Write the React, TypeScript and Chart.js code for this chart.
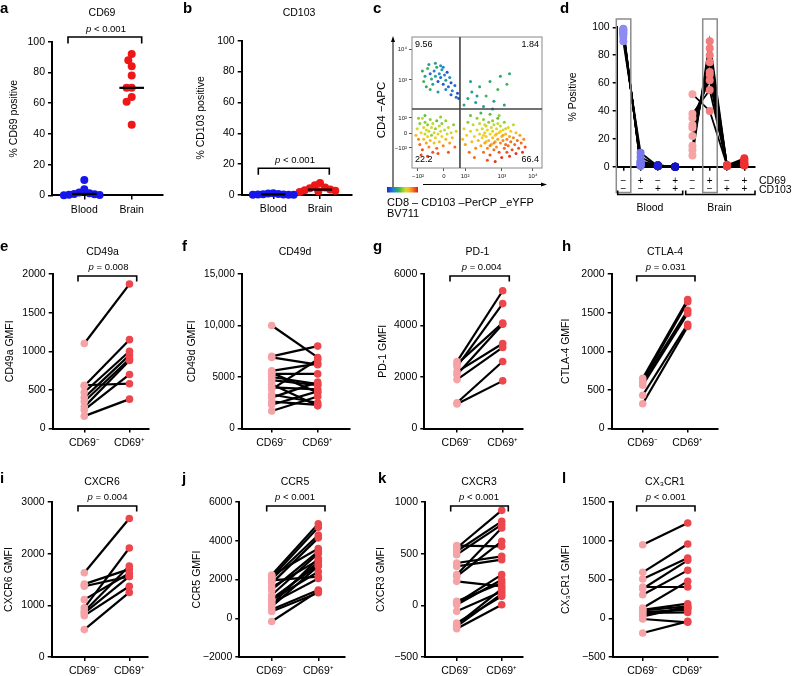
import React, { useEffect, useRef } from 'react';
import { Chart, registerables } from 'chart.js';

Chart.register(...registerables);

const W = 795;
const H = 676;
const FONT = '"Liberation Sans", Arial, Helvetica, sans-serif';

// ---------------- data: panels a, b ----------------
const abGroups = ['Blood', 'Brain'];
const cd69Blood = [10, 4, 2, 1.5, 1, 0.8, 0.5, 0.3, 0.1];
const cd69Brain = [92, 88, 84, 78, 70, 70, 64, 61, 46];
const cd103Blood = [1.2, 0.9, 0.7, 0.5, 0.4, 0.3, 0.2, 0.15, 0.1];
const cd103Brain = [7.8, 6.3, 4.9, 4.3, 3.5, 3, 2.8, 2.4, 2];

// ---------------- data: panel c (flow plot, display units) ----------------
const flowTickLabels = ['−10²', '0', '10²', '10³', '10⁴'];
const flowTickX = [4.6, 24.6, 40.8, 69.2, 93];
const flowTickY = [15.3, 26.7, 38.2, 67.2, 90.8];
const flowGateX = 36.9;
const flowGateY = 45;
const quadrantPct = ['9.56', '1.84', '22.2', '66.4'];
const flowUL = [[8,74,.35],[10,70,.3],[12,76,.4],[14,72,.15],[15,68,.35],[17,74,.2],[18,70,.3],[19,77,.35],[20,66,.1],[21,72,.25],[22,69,.15],[23,75,.3],[24,64,.12],[25,71,.2],[26,67,.3],[27,73,.1],[28,62,.15],[29,69,.25],[30,65,.1],[31,59,.2],[33,63,.15],[35,57,.1],[9,66,.4],[11,62,.35],[13,79,.3],[16,64,.3],[22,78,.25],[26,60,.2],[34,54,.15],[36,53,.1],[30,56,.12],[20,58,.3],[14,60,.38],[18,80,.3],[24,77,.2]];
const flowUR = [[40,48,.3],[43,53,.35],[46,58,.3],[49,50,.25],[52,62,.35],[55,47,.3],[57,55,.4],[60,66,.35],[63,51,.3],[66,60,.4],[68,70,.35],[71,48,.3],[73,64,.4],[75,72,.35],[45,66,.3],[62,45,.25],[50,55,.3]];
const flowLL = [[4,30,.6],[5,22,.8],[6,34,.5],[6,18,.85],[7,27,.65],[8,38,.55],[8,14,.9],[9,31,.6],[9,22,.7],[10,26,.55],[10,35,.5],[11,19,.75],[11,29,.6],[12,33,.5],[12,24,.65],[13,16,.8],[13,28,.55],[14,37,.5],[14,21,.7],[15,31,.6],[15,25,.5],[16,12,.9],[16,34,.55],[17,19,.7],[17,27,.6],[18,30,.5],[18,23,.65],[19,36,.45],[19,15,.85],[20,26,.6],[21,32,.55],[21,20,.7],[22,28,.6],[23,24,.65],[23,34,.5],[24,17,.8],[25,29,.55],[26,22,.7],[26,36,.5],[27,26,.6],[28,31,.55],[29,19,.75],[30,27,.6],[31,23,.7],[32,33,.5],[33,16,.85],[34,28,.6],[7,10,.9],[12,9,.95],[20,11,.9],[3,25,.7],[5,38,.5],[10,40,.45],[22,39,.5],[28,12,.9]];
const flowLR = [[40,30,.6],[41,18,.75],[42,25,.65],[43,35,.5],[44,12,.85],[45,28,.6],[46,20,.7],[47,33,.55],[48,24,.65],[49,15,.8],[50,38,.5],[50,29,.6],[51,21,.7],[52,26,.6],[52,34,.55],[53,17,.75],[54,30,.6],[54,23,.65],[55,12,.85],[55,37,.5],[56,27,.6],[56,19,.75],[57,32,.55],[57,24,.65],[58,15,.8],[58,29,.6],[59,21,.7],[59,35,.5],[60,26,.65],[60,10,.9],[61,31,.6],[61,18,.75],[62,23,.7],[62,28,.6],[63,14,.85],[63,33,.55],[64,20,.75],[64,25,.65],[65,30,.6],[65,16,.8],[66,22,.75],[66,38,.45],[67,27,.65],[67,12,.9],[68,19,.8],[68,32,.55],[69,24,.7],[69,8,.95],[70,21,.8],[70,29,.6],[71,15,.85],[71,35,.5],[72,18,.85],[72,26,.7],[73,12,.9],[73,22,.8],[74,31,.6],[74,17,.85],[75,24,.75],[75,9,.95],[76,20,.85],[76,28,.65],[77,14,.9],[78,23,.8],[78,33,.55],[79,18,.85],[80,11,.95],[80,27,.7],[81,21,.85],[82,15,.9],[83,25,.75],[84,19,.85],[85,12,.95],[86,22,.8],[87,16,.9],[45,40,.45],[53,42,.4],[60,41,.45],[67,40,.5],[58,6,.9],[64,5,.95],[48,8,.85],[39,22,.7],[62,36,.5],[56,33,.6],[66,34,.55],[60,17,.8],[63,19,.8],[65,26,.7],[68,28,.65],[70,25,.75],[72,30,.6],[57,20,.7],[55,25,.65]];

// ---------------- data: panel d ----------------
const dRowCD69 = ['−', '+', '−', '+', '−', '+', '−', '+'];
const dRowCD103 = ['−', '−', '+', '+', '−', '−', '+', '+'];
const bloodNN = [99, 98.5, 98, 97, 96, 96, 95, 93, 90];
const bloodPN = [0.5, 1, 1.5, 2, 3, 3.5, 4, 7, 10];
const bloodNP = [0.5, 0.5, 0.5, 1, 1, 0.5, 1, 0.5, 0.3];
const bloodPP = [0, 0, 0, 0, 0, 0, 0, 0, 0];
const brainNN = [52, 38, 35, 30, 28, 22, 15, 12, 8];
const brainPN = [40, 55, 62, 68, 66, 75, 80, 85, 90];
const brainNP = [1, 1, 0.5, 1, 0.5, 1, 1, 0.5, 0.5];
const brainPP = [6, 5, 2, 1, 3, 2, 4, 1, 1];

// ---------------- data: panels e–l ----------------
const pairLabels = ['CD69⁻', 'CD69⁺'];
const cd49aNeg = [1100, 560, 550, 470, 400, 350, 280, 240, 160];
const cd49aPos = [1870, 580, 1150, 1000, 950, 900, 880, 700, 380];
const cd49dNeg = [10000, 7000, 6900, 5600, 5400, 5300, 5000, 4700, 4300, 4000, 3800, 3300, 3000, 2600, 2300, 1700];
const cd49dPos = [6900, 8000, 6200, 6300, 3500, 5300, 4300, 4200, 2200, 3800, 6700, 2500, 4500, 2300, 3600, 3100];
const pd1Neg = [2600, 2500, 2400, 2200, 2100, 1900, 1000, 950];
const pd1Pos = [5350, 4100, 4850, 3300, 4050, 3150, 2600, 1850];
const ctla4Neg = [650, 620, 600, 560, 430, 320];
const ctla4Pos = [1670, 1640, 1530, 1490, 1350, 1320];
const cxcr6Neg = [1630, 1410, 1370, 1110, 950, 880, 850, 800, 530];
const cxcr6Pos = [2680, 1700, 1560, 1620, 2110, 1760, 1560, 1370, 1250];
const ccr5Neg = [2230, 2200, 2100, 2010, 1950, 1800, 1600, 1460, 1200, 1000, 950, 900, 780, 700, 600, 450, 350, -170];
const ccr5Pos = [4880, 3600, 4700, 4300, 2150, 4150, 3000, 3450, 3350, 2750, 2400, 2900, 2050, 3100, 2700, 1460, 1320, 1400];
const cxcr3Neg = [578, 555, 523, 490, 410, 377, 297, 281, 232, 39, 20, 6, -58, -171, -190, -203, -226];
const cxcr3Pos = [571, 919, 813, 781, 474, 442, 748, 619, 184, 216, 297, 248, 135, 87, 160, 110, 6];
const cx3cr1Neg = [949, 592, 506, 403, 380, 304, 132, 110, 102, 80, 68, 40, 25, -10, -190];
const cx3cr1Pos = [1229, 958, 777, 403, 747, 618, 476, 188, 153, 110, 75, 130, 150, -52, -40];

// ---------------- styling ----------------
const BLUE = '#1616ec';
const RED = '#ee1616';
const NEG = '#f5a3a6';
const POS = '#ec474c';
const D_COLORS = ['#8c8cf2', '#7575f0', '#1e1ed8', '#1414c0', '#f5a3a3', '#f27d7d', '#ee3c3c', '#ee3030'];

const YW = 46;
const XH = 24;

type Box = { L: number; T: number; R: number; B: number };

function layoutFor(b: Box) {
  return { padding: { left: b.L - YW, top: b.T, right: W - b.R, bottom: H - b.B - XH } };
}
function xRange(b: Box, p0: number, pN: number, n: number) {
  const u = (pN - p0) / n;
  return { min: (b.L - p0) / u, max: (b.R - p0) / u };
}
function fmt(v: number) {
  const a = Math.abs(v);
  const s = a >= 10000 ? a.toLocaleString('en-US') : String(a);
  return (v < 0 ? '−' : '') + s;
}
const gridOpts = { drawOnChartArea: false, drawTicks: true, tickLength: 4, color: '#000', lineWidth: 1.5 };
const borderOpts = { display: true, color: '#000', width: 2 };

function yAxis(min: number, max: number, step: number, size = 10) {
  return {
    type: 'linear', min, max,
    afterFit: (s: any) => { s.width = YW; },
    ticks: { stepSize: step, color: '#000', font: { family: FONT, size }, padding: 3, callback: (v: any) => fmt(Number(v)) },
    grid: gridOpts,
    border: borderOpts,
  };
}
function xAxis(min: number, max: number, n: number, labels: string[] | null, size = 10) {
  return {
    type: 'linear', min, max,
    afterFit: (s: any) => { s.height = XH; },
    afterBuildTicks: (s: any) => { s.ticks = Array.from({ length: n }, (_, i) => ({ value: i })); },
    ticks: {
      display: !!labels, autoSkip: false, maxRotation: 0, minRotation: 0, color: '#000',
      font: { family: FONT, size }, padding: 4,
      callback: (_v: any, i: number) => (labels ? labels[i] : ''),
    },
    grid: gridOpts,
    border: borderOpts,
  };
}

// ---------------- drawing helpers ----------------
function txt(ctx: CanvasRenderingContext2D, s: string, x: number, y: number, size: number, o: any = {}) {
  ctx.save();
  ctx.font = `${o.italic ? 'italic ' : ''}${o.bold ? 'bold ' : ''}${size}px ${FONT}`;
  ctx.fillStyle = o.color || '#000';
  ctx.textAlign = o.align || 'center';
  ctx.textBaseline = o.baseline || 'middle';
  ctx.translate(x, y);
  if (o.rot) ctx.rotate(o.rot);
  ctx.fillText(s, 0, 0);
  ctx.restore();
}
function pText(ctx: CanvasRenderingContext2D, rest: string, cx: number, cy: number, size = 9.5) {
  ctx.save();
  ctx.font = `italic ${size}px ${FONT}`;
  const w1 = ctx.measureText('p').width;
  ctx.font = `${size}px ${FONT}`;
  const w2 = ctx.measureText(rest).width;
  const x0 = cx - (w1 + w2) / 2;
  ctx.restore();
  txt(ctx, 'p', x0, cy, size, { italic: true, align: 'left' });
  txt(ctx, rest, x0 + w1, cy, size, { align: 'left' });
}
function bracket(ctx: CanvasRenderingContext2D, x1: number, x2: number, y: number, h: number) {
  ctx.save();
  ctx.strokeStyle = '#000';
  ctx.lineWidth = 1.6;
  ctx.beginPath();
  ctx.moveTo(x1, y + h);
  ctx.lineTo(x1, y);
  ctx.lineTo(x2, y);
  ctx.lineTo(x2, y + h);
  ctx.stroke();
  ctx.restore();
}
function letter(ctx: CanvasRenderingContext2D, s: string, x: number, y: number) {
  txt(ctx, s, x, y, 15, { bold: true, align: 'left', baseline: 'alphabetic' });
}
function annot(draw: (ctx: CanvasRenderingContext2D, chart: any) => void) {
  return {
    id: 'annot',
    afterDraw(chart: any) { chart.ctx.save(); draw(chart.ctx, chart); chart.ctx.restore(); },
  };
}
function baseOptions(b: Box, scales: any) {
  return {
    responsive: false, animation: false, devicePixelRatio: 1, events: [],
    layout: layoutFor(b),
    plugins: { legend: { display: false }, tooltip: { enabled: false } },
    scales,
  };
}

// simple beeswarm: spreads overlapping dots sideways (pixel metric, squashed vertically)
function swarm(values: number[], center: number, pxX: number, pxY: number) {
  const order = values.map((_, i) => i).sort((a, b) => values[b] - values[a]);
  const placed: { x: number; y: number }[] = [];
  const out: any[] = new Array(values.length);
  const minD = 4;
  const step = 1.7;
  for (const i of order) {
    const py = values[i] * pxY;
    let off = 0;
    for (let k = 0; k < 80; k++) {
      const cand = k === 0 ? 0 : (k % 2 ? -1 : 1) * Math.ceil(k / 2) * step;
      if (placed.every((p) => Math.hypot(p.x - cand, (p.y - py) * 0.45) >= minD)) { off = cand; break; }
    }
    placed.push({ x: off, y: py });
    out[i] = { x: center + off / pxX, y: values[i] };
  }
  return out;
}
function median(a: number[]) {
  const s = [...a].sort((x, y) => x - y);
  const m = Math.floor(s.length / 2);
  return s.length % 2 ? s[m] : (s[m - 1] + s[m]) / 2;
}

// ---------------- panel builders ----------------
function dotPanel(o: any) {
  const b: Box = o.box;
  const xr = xRange(b, o.p0, o.p1, 1);
  const pxX = (b.R - b.L) / (xr.max - xr.min);
  const pxY = (b.B - b.T) / 100;
  const sw0 = swarm(o.v0, 0, pxX, pxY);
  const sw1 = swarm(o.v1, 1, pxX, pxY);
  const pt = (data: any[], color: string) => ({
    data, showLine: false, pointRadius: 4, pointBackgroundColor: color, pointBorderWidth: 0, order: 1, clip: false,
  });
  const med = (c: number, v: number[]) => ({
    data: [{ x: c - 0.26, y: median(v) }, { x: c + 0.26, y: median(v) }],
    showLine: true, borderColor: '#000', borderWidth: 2.2, pointRadius: 0, order: 0, clip: false,
  });
  return {
    type: 'scatter',
    data: { datasets: [pt(sw0, BLUE), pt(sw1, RED), med(0, o.v0), med(1, o.v1)] },
    options: baseOptions(b, { x: xAxis(xr.min, xr.max, 2, abGroups, 10.5), y: yAxis(0, 100, 20, 10.5) }),
    plugins: [annot((ctx) => {
      letter(ctx, o.letter, o.lx, 13);
      txt(ctx, o.title, o.tx, 13, 10.5);
      pText(ctx, ' < 0.001', o.px, o.py);
      bracket(ctx, o.br[0], o.br[1], o.br[2], 6.5);
      txt(ctx, o.ytitle, o.ytx, (b.T + b.B) / 2, 10.5, { rot: -Math.PI / 2 });
    })],
  };
}

function pairedPanel(o: any) {
  const b: Box = o.box;
  const xr = xRange(b, o.p0, o.p1, 1);
  const datasets: any[] = [
    { data: o.neg.map((v: number) => ({ x: 0, y: v })), pointRadius: 3.8, pointBackgroundColor: NEG, pointBorderWidth: 0, order: 0, clip: false },
    { data: o.pos.map((v: number) => ({ x: 1, y: v })), pointRadius: 3.8, pointBackgroundColor: POS, pointBorderWidth: 0, order: 0, clip: false },
  ];
  o.neg.forEach((v: number, i: number) => {
    datasets.push({
      data: [{ x: 0, y: v }, { x: 1, y: o.pos[i] }], showLine: true, borderColor: '#000', borderWidth: 2.2,
      pointRadius: 0, order: 1, clip: false,
    });
  });
  return {
    type: 'scatter',
    data: { datasets },
    options: baseOptions(b, { x: xAxis(xr.min, xr.max, 2, pairLabels, 10.5), y: yAxis(o.min, o.max, o.step, o.tickSize || 10.5) }),
    plugins: [annot((ctx) => {
      letter(ctx, o.letter, o.lx, o.ly);
      txt(ctx, o.title, o.tx, o.ty, 10.5);
      if (o.p) {
        pText(ctx, o.p, o.px, o.ty + 15.5);
        bracket(ctx, o.br[0], o.br[1], o.ty + 24, 5.5);
      }
      txt(ctx, o.ytitle, o.ytx, (b.T + b.B) / 2, 10.5, { rot: -Math.PI / 2 });
    })],
  };
}

const JET: [number, number[]][] = [
  [0, [30, 40, 210]], [0.22, [30, 140, 210]], [0.35, [40, 170, 110]], [0.45, [90, 195, 60]],
  [0.56, [200, 220, 40]], [0.66, [248, 205, 30]], [0.78, [245, 150, 30]], [0.9, [240, 80, 30]], [1, [225, 25, 25]],
];
function jet(t: number) {
  for (let i = 1; i < JET.length; i++) {
    if (t <= JET[i][0]) {
      const [a, ca] = JET[i - 1];
      const [bb, cb] = JET[i];
      const f = (t - a) / (bb - a);
      const c = ca.map((v, k) => Math.round(v + (cb[k] - v) * f));
      return `rgb(${c[0]},${c[1]},${c[2]})`;
    }
  }
  return 'rgb(225,25,25)';
}

function flowPanel() {
  const b: Box = { L: 412, T: 37, R: 542, B: 168 };
  const pts = [...flowUL, ...flowUR, ...flowLL, ...flowLR];
  const tickAxis = (pos: number[], horiz: boolean) => ({
    type: 'linear', min: 0, max: 100,
    afterFit: (s: any) => { if (horiz) s.height = XH; else s.width = YW; },
    afterBuildTicks: (s: any) => { s.ticks = pos.map((v) => ({ value: v })); },
    ticks: { autoSkip: false, maxRotation: 0, color: '#222', font: { family: FONT, size: 6 }, padding: 2,
      callback: (_v: any, i: number) => flowTickLabels[i] },
    grid: { drawOnChartArea: false, drawTicks: true, tickLength: 3, color: '#555', lineWidth: 1 },
    border: { display: false },
  });
  return {
    type: 'scatter',
    data: {
      datasets: [{
        data: pts.map((p) => ({ x: p[0], y: p[1] })),
        pointRadius: 1.5, pointBorderWidth: 0, pointBackgroundColor: pts.map((p) => jet(p[2])),
      }],
    },
    options: baseOptions(b, { x: tickAxis(flowTickX, true), y: tickAxis(flowTickY, false) }),
    plugins: [annot((ctx, chart) => {
      const a = chart.chartArea;
      const xs = chart.scales.x;
      const ys = chart.scales.y;
      ctx.strokeStyle = '#888';
      ctx.lineWidth = 1;
      ctx.strokeRect(a.left, a.top, a.right - a.left, a.bottom - a.top);
      ctx.strokeStyle = '#444';
      ctx.lineWidth = 1.6;
      const gx = xs.getPixelForValue(flowGateX);
      const gy = ys.getPixelForValue(flowGateY);
      ctx.beginPath();
      ctx.moveTo(gx, a.top); ctx.lineTo(gx, a.bottom);
      ctx.moveTo(a.left, gy); ctx.lineTo(a.right, gy);
      ctx.stroke();
      txt(ctx, quadrantPct[0], a.left + 3, a.top + 7.5, 9, { align: 'left' });
      txt(ctx, quadrantPct[1], a.right - 3, a.top + 7.5, 9, { align: 'right' });
      txt(ctx, quadrantPct[2], a.left + 3, a.bottom - 8, 9, { align: 'left' });
      txt(ctx, quadrantPct[3], a.right - 3, a.bottom - 8, 9, { align: 'right' });
      // arrows
      ctx.strokeStyle = '#000';
      ctx.fillStyle = '#000';
      ctx.lineWidth = 1;
      ctx.beginPath(); ctx.moveTo(393, 192); ctx.lineTo(393, 40); ctx.stroke();
      ctx.beginPath(); ctx.moveTo(393, 36); ctx.lineTo(391, 42); ctx.lineTo(395, 42); ctx.closePath(); ctx.fill();
      ctx.beginPath(); ctx.moveTo(423, 184.5); ctx.lineTo(543, 184.5); ctx.stroke();
      ctx.beginPath(); ctx.moveTo(547, 184.5); ctx.lineTo(541, 182.5); ctx.lineTo(541, 186.5); ctx.closePath(); ctx.fill();
      // colour bar
      const g = ctx.createLinearGradient(387, 0, 418, 0);
      for (let i = 0; i <= 10; i++) g.addColorStop(i / 10, jet(i / 10));
      ctx.fillStyle = g;
      ctx.fillRect(387, 187, 31, 5.5);
      txt(ctx, 'CD4 −APC', 382, 110, 11.5, { rot: -Math.PI / 2 });
      txt(ctx, 'CD8 – CD103 –PerCP _eYFP', 387, 203, 11, { align: 'left' });
      txt(ctx, 'BV711', 387, 213.5, 11, { align: 'left' });
      letter(ctx, 'c', 373, 13);
    })],
  };
}

function dPanel() {
  const b: Box = { L: 616.7, T: 27.3, R: 755, B: 166.7 };
  const xr = xRange(b, 623.3, 744.3, 7);
  const blood = [bloodNN, bloodPN, bloodNP, bloodPP];
  const brain = [brainNN, brainPN, brainNP, brainPP];
  const datasets: any[] = [];
  [...blood, ...brain].forEach((arr, c) => {
    datasets.push({
      data: arr.map((v) => ({ x: c, y: v })), pointRadius: 4, pointBackgroundColor: D_COLORS[c],
      pointBorderWidth: 0, order: 0, clip: false,
    });
  });
  const lines = (grp: number[][], off: number) => grp[0].forEach((_, i) => {
    datasets.push({
      data: grp.map((arr, c) => ({ x: c + off, y: arr[i] })), showLine: true, borderColor: '#000',
      borderWidth: 1.8, pointRadius: 0, order: 1, clip: false,
    });
  });
  lines(blood, 0);
  lines(brain, 4);
  return {
    type: 'scatter',
    data: { datasets },
    options: baseOptions(b, { x: xAxis(xr.min, xr.max, 8, null), y: yAxis(0, 100, 20, 10.5) }),
    plugins: [annot((ctx, chart) => {
      const xs = chart.scales.x;
      ctx.strokeStyle = '#8c8c8c';
      ctx.lineWidth = 1.5;
      [0, 5].forEach((c) => {
        const px = xs.getPixelForValue(c);
        ctx.strokeRect(px - 7, 19, 14.5, 173.5);
      });
      for (let i = 0; i < 8; i++) {
        const px = xs.getPixelForValue(i);
        txt(ctx, dRowCD69[i], px, 181.5, 10);
        txt(ctx, dRowCD103[i], px, 189.5, 10);
      }
      txt(ctx, 'CD69', 759, 181.5, 10.5, { align: 'left' });
      txt(ctx, 'CD103', 759, 190, 10.5, { align: 'left' });
      ctx.strokeStyle = '#000';
      ctx.lineWidth = 1.6;
      const br = (x1: number, x2: number) => {
        ctx.beginPath();
        ctx.moveTo(x1, 190.5); ctx.lineTo(x1, 194.5); ctx.lineTo(x2, 194.5); ctx.lineTo(x2, 190.5);
        ctx.stroke();
      };
      br(617.7, 682.7);
      br(685.7, 755);
      txt(ctx, 'Blood', 650, 208.5, 10.5);
      txt(ctx, 'Brain', 719.5, 208.5, 10.5);
      txt(ctx, '% Positive', 573, (b.T + b.B) / 2, 10.5, { rot: -Math.PI / 2 });
      letter(ctx, 'd', 560, 13);
    })],
  };
}

function buildConfigs() {
  const r2 = { T: 274, B: 428.5 };
  const r3 = { T: 502, B: 657 };
  return [
    dotPanel({ box: { L: 52, T: 41.7, R: 163, B: 195.5 }, p0: 84.3, p1: 131.7, v0: cd69Blood, v1: cd69Brain,
      letter: 'a', lx: 0, title: 'CD69', tx: 102, px: 106, py: 29, br: [68, 141.7, 37], ytitle: '% CD69 positive', ytx: 14 }),
    dotPanel({ box: { L: 241.7, T: 40.7, R: 352, B: 195 }, p0: 273.3, p1: 320, v0: cd103Blood, v1: cd103Brain,
      letter: 'b', lx: 183, title: 'CD103', tx: 299, px: 295, py: 160, br: [258.3, 329.3, 168.3], ytitle: '% CD103 positive', ytx: 201 }),
    flowPanel(),
    dPanel(),
    pairedPanel({ box: { L: 52.7, R: 149, ...r2 }, p0: 84.3, p1: 129.5, neg: cd49aNeg, pos: cd49aPos, min: 0, max: 2000, step: 500,
      letter: 'e', lx: 0, ly: 250.5, title: 'CD49a', tx: 102.5, ty: 252, p: ' = 0.008', px: 108.5, br: [78, 136.7], ytitle: 'CD49a GMFI', ytx: 10 }),
    pairedPanel({ box: { L: 241.7, R: 350, ...r2 }, p0: 271.7, p1: 317.7, neg: cd49dNeg, pos: cd49dPos, min: 0, max: 15000, step: 5000,
      tickSize: 10, letter: 'f', lx: 182, ly: 250.5, title: 'CD49d', tx: 295, ty: 252, ytitle: 'CD49d GMFI', ytx: 192 }),
    pairedPanel({ box: { L: 424.3, R: 523, ...r2 }, p0: 457, p1: 502.7, neg: pd1Neg, pos: pd1Pos, min: 0, max: 6000, step: 2000,
      letter: 'g', lx: 373, ly: 250.5, title: 'PD-1', tx: 477.5, ty: 252, p: ' = 0.004', px: 481.7, br: [450, 509.3], ytitle: 'PD-1 GMFI', ytx: 383 }),
    pairedPanel({ box: { L: 611.7, R: 718, ...r2 }, p0: 642.7, p1: 687.7, neg: ctla4Neg, pos: ctla4Pos, min: 0, max: 2000, step: 500,
      letter: 'h', lx: 562, ly: 250.5, title: 'CTLA-4', tx: 665, ty: 252, p: ' = 0.031', px: 665.8, br: [636.7, 695], ytitle: 'CTLA-4 GMFI', ytx: 566 }),
    pairedPanel({ box: { L: 51.7, R: 148, ...r3 }, p0: 84.3, p1: 129.3, neg: cxcr6Neg, pos: cxcr6Pos, min: 0, max: 3000, step: 1000,
      letter: 'i', lx: 0, ly: 483, title: 'CXCR6', tx: 102, ty: 482, p: ' = 0.004', px: 107.5, br: [78, 136.7], ytitle: 'CXCR6 GMFI', ytx: 9 }),
    pairedPanel({ box: { L: 239.3, R: 345, ...r3 }, p0: 271.7, p1: 318.3, neg: ccr5Neg, pos: ccr5Pos, min: -2000, max: 6000, step: 2000,
      letter: 'j', lx: 182, ly: 483, title: 'CCR5', tx: 295, ty: 482, p: ' < 0.001', px: 295, br: [266.7, 325], ytitle: 'CCR5 GMFI', ytx: 197 }),
    pairedPanel({ box: { L: 425, R: 523, ...r3 }, p0: 456.7, p1: 501.7, neg: cxcr3Neg, pos: cxcr3Pos, min: -500, max: 1000, step: 500,
      letter: 'k', lx: 378, ly: 483, title: 'CXCR3', tx: 479, ty: 482, p: ' < 0.001', px: 479, br: [450.7, 508.3], ytitle: 'CXCR3 GMFI', ytx: 381 }),
    pairedPanel({ box: { L: 612.7, R: 718, ...r3 }, p0: 642.7, p1: 687.7, neg: cx3cr1Neg, pos: cx3cr1Pos, min: -500, max: 1500, step: 500,
      letter: 'l', lx: 562, ly: 483, title: 'CX₃CR1', tx: 665, ty: 482, p: ' < 0.001', px: 665.8, br: [636.7, 695], ytitle: 'CX₃CR1 GMFI', ytx: 566 }),
  ];
}

export default function App() {
  const refs = useRef<(HTMLCanvasElement | null)[]>([]);
  useEffect(() => {
    const configs = buildConfigs();
    const charts = configs.map((c: any, i: number) => new Chart(refs.current[i] as HTMLCanvasElement, c));
    return () => charts.forEach((ch) => ch.destroy());
  }, []);
  return (
    <div style={{ position: 'absolute', left: 0, top: 0, width: W, height: H, background: '#fff', overflow: 'hidden' }}>
      {Array.from({ length: 12 }).map((_, i) => (
        <canvas
          key={i}
          ref={(el) => { refs.current[i] = el; }}
          width={W}
          height={H}
          style={{ position: 'absolute', left: 0, top: 0, width: W, height: H }}
        />
      ))}
    </div>
  );
}
